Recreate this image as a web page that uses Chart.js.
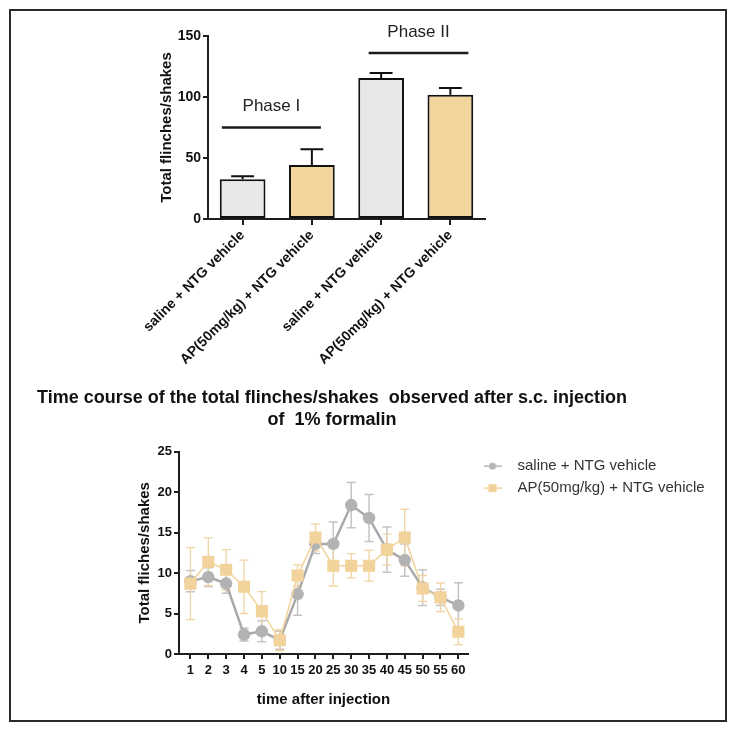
<!DOCTYPE html>
<html>
<head>
<meta charset="utf-8">
<script src="https://cdn.jsdelivr.net/npm/chart.js@4.4.1/dist/chart.umd.min.js"></script>
<style>
  html, body { margin: 0; padding: 0; background: #fff; }
  #page { position: relative; width: 737px; height: 732px; overflow: hidden; }
  #frame { position: absolute; left: 9px; top: 9px; width: 718px; height: 713px; border: 2px solid #2b2b2b; box-sizing: border-box; }
  canvas { position: absolute; left: 0; }
  #barChart { top: 0; }
  #timeChart { top: 380px; }
</style>
</head>
<body>
<div id="page">
  <div id="frame"></div>
  <canvas id="barChart" width="737" height="380"></canvas>
  <canvas id="timeChart" width="737" height="352"></canvas>
</div>
<script>
// top panel: total flinches/shakes per phase (mean + SEM)
const groupLabels = ['saline + NTG vehicle', 'AP(50mg/kg) + NTG vehicle', 'saline + NTG vehicle', 'AP(50mg/kg) + NTG vehicle'];
const groupTotals = [32.6, 44.3, 115.5, 101.9];
const groupSem = [2.4, 12.8, 4.1, 5.4];
const phaseNames = ['Phase I', 'Phase II'];
const phaseLineLevel = [75, 136];
const phaseFrom = [-0.3, 1.82];   // in category units
const phaseTo = [1.13, 3.26];
const phaseTextLevel = [92, 153];

// bottom panel: time course after formalin
const timeLabels = ['1', '2', '3', '4', '5', '10', '15', '20', '25', '30', '35', '40', '45', '50', '55', '60'];
const salineMean = [9.0, 9.5, 8.7, 2.4, 2.8, 1.7, 7.4, 13.6, 13.6, 18.4, 16.8, 12.9, 11.6, 8.2, 7.0, 6.0];
const salineSem = [1.3, 1.15, 1.2, 0.8, 1.3, 1.1, 2.6, 1.2, 2.7, 2.8, 2.9, 2.8, 2.0, 2.2, 1.0, 2.8];
const apMean = [8.7, 11.4, 10.4, 8.3, 5.3, 1.7, 9.7, 14.4, 10.9, 10.9, 10.9, 12.9, 14.4, 8.1, 7.0, 2.75];
const apSem = [4.45, 2.95, 2.5, 3.3, 2.4, 1.3, 1.3, 1.65, 2.5, 1.5, 1.9, 1.9, 3.5, 1.6, 1.75, 1.6];

Chart.defaults.font.family = '"Liberation Sans", Arial, sans-serif';
Chart.defaults.color = '#111';

// draws SEM whiskers from the dataset's own scale
const errorBars = {
  id: 'errorBars',
  beforeDatasetsDraw(chart, args, opts) { if (opts.under) drawErrorBars(chart, opts); },
  afterDatasetsDraw(chart, args, opts) { if (!opts.under) drawErrorBars(chart, opts); }
};

function drawErrorBars(chart, opts) {
  const ctx = chart.ctx;
  chart.data.datasets.forEach((ds, i) => {
    if (!ds.sem) return;
    const meta = chart.getDatasetMeta(i);
    const yScale = chart.scales[meta.yAxisID];
    ctx.save();
    ctx.strokeStyle = ds.semColor || '#000';
    ctx.lineWidth = ds.semWidth || 1;
    meta.data.forEach((el, j) => {
      const raw = ds.data[j];
      const v = typeof raw === 'object' ? raw.y : raw;
      const top = yScale.getPixelForValue(v + ds.sem[j]);
      const bottom = opts.upOnly ? el.y : yScale.getPixelForValue(v - ds.sem[j]);
      const half = opts.capFraction ? el.width * opts.capFraction / 2 : opts.cap / 2;
      ctx.beginPath();
      ctx.moveTo(el.x, bottom);
      ctx.lineTo(el.x, top);
      ctx.moveTo(el.x - half, top);
      ctx.lineTo(el.x + half, top);
      if (!opts.upOnly) {
        ctx.moveTo(el.x - half, bottom);
        ctx.lineTo(el.x + half, bottom);
      }
      ctx.stroke();
    });
    ctx.restore();
  });
}

// "Phase I" / "Phase II" brackets above the bars
const phaseMarks = {
  id: 'phaseMarks',
  afterDatasetsDraw(chart) {
    const {ctx, scales: {x, y}} = chart;
    ctx.save();
    ctx.strokeStyle = '#1a1a1a';
    ctx.lineWidth = 2.5;
    ctx.fillStyle = '#222';
    ctx.font = '17px "Liberation Sans", Arial, sans-serif';
    ctx.textAlign = 'center';
    ctx.textBaseline = 'middle';
    phaseNames.forEach((name, i) => {
      const x0 = x.getPixelForValue(phaseFrom[i]);
      const x1 = x.getPixelForValue(phaseTo[i]);
      const yl = y.getPixelForValue(phaseLineLevel[i]);
      ctx.beginPath();
      ctx.moveTo(x0, yl);
      ctx.lineTo(x1, yl);
      ctx.stroke();
      ctx.fillText(name, (x0 + x1) / 2, y.getPixelForValue(phaseTextLevel[i]));
    });
    ctx.restore();
  }
};

// keeps the 2-line title centred on the page, not on the padded area
const centreTitle = {
  id: 'centreTitle',
  afterLayout(chart, args, opts) {
    const t = chart.titleBlock;
    if (t) { t.left = opts.left; t.right = opts.right; }
  }
};

function legendIcon(color, shape) {
  const c = document.createElement('canvas');
  c.width = 18; c.height = 12;
  const g = c.getContext('2d');
  g.strokeStyle = color;
  g.lineWidth = 1.5;
  g.beginPath(); g.moveTo(0, 6); g.lineTo(18, 6); g.stroke();
  g.fillStyle = color;
  if (shape === 'circle') { g.beginPath(); g.arc(9, 6, 3.5, 0, Math.PI * 2); g.fill(); }
  else g.fillRect(5, 2, 8, 8);
  return c;
}

const axisLine = {color: '#1e1e1e', width: 2};
const tickMarks = {drawOnChartArea: false, drawTicks: true, tickLength: 5, color: '#1e1e1e', lineWidth: 2};

new Chart(document.getElementById('barChart'), {
  type: 'bar',
  data: {
    labels: groupLabels,
    datasets: [{
      data: groupTotals,
      sem: groupSem,
      semColor: '#111',
      semWidth: 2,
      backgroundColor: ['#e8e8e8', '#f2d49d', '#e8e8e8', '#f2d49d'],
      borderColor: '#111',
      borderWidth: 2,
      borderSkipped: false,
      barPercentage: 0.66,
      categoryPercentage: 1
    }]
  },
  options: {
    responsive: false,
    animation: false,
    layout: {padding: {left: 158, right: 252, top: 36, bottom: 0}},
    plugins: {
      legend: {display: false},
      tooltip: {enabled: false},
      errorBars: {upOnly: true, capFraction: 0.5}
    },
    scales: {
      x: {
        grid: Object.assign({}, tickMarks, {offset: false, tickLength: 6}),
        border: axisLine,
        ticks: {font: {size: 14, weight: 'bold'}, minRotation: 45, maxRotation: 45, autoSkip: false, padding: 2},
        afterFit(s) { s.height = 161; }
      },
      y: {
        min: 0, max: 150,
        ticks: {stepSize: 50, font: {size: 14, weight: 'bold'}, padding: 2},
        grid: tickMarks,
        border: axisLine,
        title: {display: true, text: 'Total flinches/shakes', font: {size: 15, weight: 'bold'}, padding: 0},
        afterFit(s) { s.width = 50; }
      }
    }
  },
  plugins: [errorBars, phaseMarks]
});

new Chart(document.getElementById('timeChart'), {
  type: 'line',
  data: {
    datasets: [{
      label: 'saline + NTG vehicle',
      data: salineMean.map((v, i) => ({x: i, y: v})),
      sem: salineSem,
      semColor: '#c4c4c4',
      semWidth: 1.5,
      borderColor: '#a9a9a9',
      borderWidth: 2.5,
      pointStyle: 'circle',
      pointRadius: 5,
      pointBackgroundColor: '#b3b3b3',
      pointBorderColor: '#b3b3b3',
      icon: legendIcon('#b3b3b3', 'circle'),
      order: 1
    }, {
      label: 'AP(50mg/kg) + NTG vehicle',
      data: apMean.map((v, i) => ({x: i, y: v})),
      sem: apSem,
      semColor: '#f0d4a2',
      semWidth: 1.3,
      borderColor: '#f2d39b',
      borderWidth: 1.5,
      pointStyle: 'rect',
      pointRadius: 7.5,
      pointBackgroundColor: '#f2d39b',
      pointBorderColor: '#f2d39b',
      icon: legendIcon('#f2d39b', 'rect'),
      order: 0
    }]
  },
  options: {
    responsive: false,
    animation: false,
    layout: {padding: {left: 136, right: 29, top: 6, bottom: 23}},
    plugins: {
      title: {
        display: true,
        text: ['Time course of the total flinches/shakes  observed after s.c. injection', 'of  1% formalin'],
        font: {size: 18, weight: 'bold', lineHeight: 1.22},
        padding: {top: 1, bottom: 20.7},
        color: '#111'
      },
      centreTitle: {left: 0, right: 664},
      legend: {
        position: 'right',
        align: 'start',
        fullSize: false,
        maxWidth: 240,
        labels: {
          usePointStyle: true,
          pointStyleWidth: 35,
          padding: 7,
          font: {size: 15},
          color: '#333',
          sort: (a, b) => a.datasetIndex - b.datasetIndex,
          generateLabels(chart) {
            const items = Chart.defaults.plugins.legend.labels.generateLabels(chart);
            items.forEach(it => { it.pointStyle = chart.data.datasets[it.datasetIndex].icon; });
            return items;
          }
        }
      },
      tooltip: {enabled: false},
      errorBars: {under: true, cap: 9}
    },
    scales: {
      x: {
        type: 'linear',
        min: -0.64, max: 15.54,
        afterBuildTicks(s) { s.ticks = timeLabels.map((t, i) => ({value: i})); },
        ticks: {callback: v => timeLabels[v], font: {size: 13, weight: 'bold'}, padding: 4, autoSkip: false, maxRotation: 0},
        grid: tickMarks,
        border: axisLine,
        title: {display: true, text: 'time after injection', font: {size: 15, weight: 'bold'}, padding: 0},
        afterFit(s) { s.height = 55; }
      },
      y: {
        min: 0, max: 25,
        ticks: {stepSize: 5, font: {size: 13, weight: 'bold'}, padding: 2},
        grid: tickMarks,
        border: axisLine,
        title: {display: true, text: 'Total fliches/shakes', font: {size: 15, weight: 'bold'}, padding: 0},
        afterFit(s) { s.width = 43; }
      }
    }
  },
  plugins: [errorBars, centreTitle]
});
</script>
</body>
</html>
